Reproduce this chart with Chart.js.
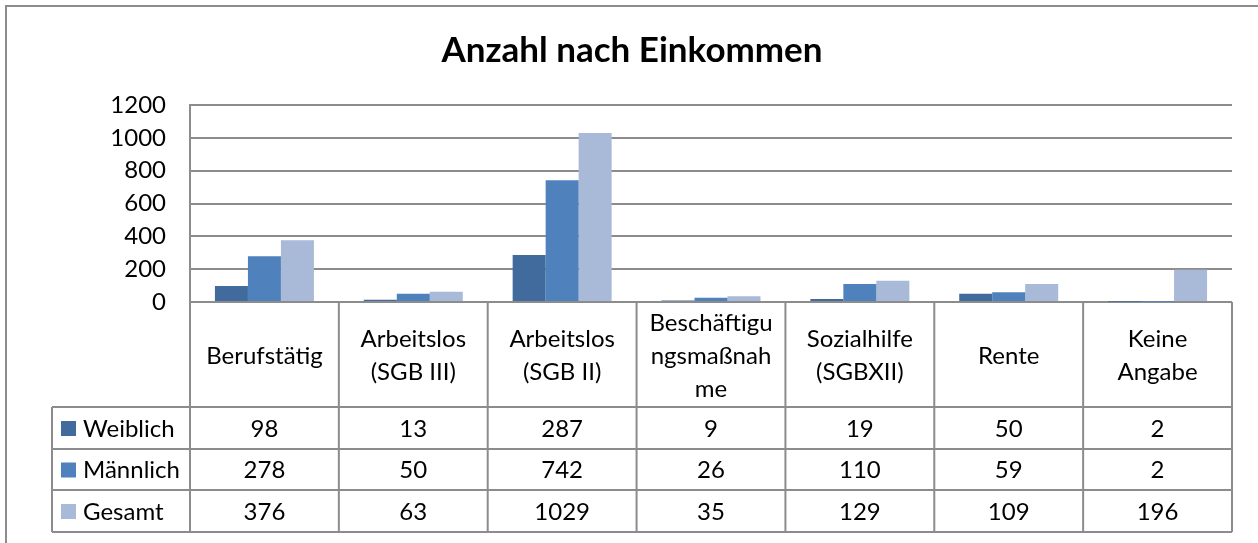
<!DOCTYPE html>
<html>
<head>
<meta charset="utf-8">
<script src="https://cdn.jsdelivr.net/npm/chart.js@4.4.0/dist/chart.umd.min.js"></script>
<style>
  html, body { margin: 0; padding: 0; background: #fff; }
  #chart { display: block; }
</style>
</head>
<body>
<canvas id="chart" width="1258" height="543"></canvas>
<script>
// data
const categories = [
    ['Berufstätig'],
    ['Arbeitslos', '(SGB III)'],
    ['Arbeitslos', '(SGB II)'],
    ['Beschäftigu', 'ngsmaßnah', 'me'],
    ['Sozialhilfe', '(SGBXII)'],
    ['Rente'],
    ['Keine', 'Angabe']
];
const weiblich = [98, 13, 287, 9, 19, 50, 2];
const maennlich = [278, 50, 742, 26, 110, 59, 2];
const gesamt = [376, 63, 1029, 35, 129, 109, 196];
const seriesNames = ['Weiblich', 'Männlich', 'Gesamt'];
const yTicks = [0, 200, 400, 600, 800, 1000, 1200];

const colors = ['#416b9d', '#4f81bd', '#a9b9d8'];
const lineColor = '#8c8c8c';
const fontFamily = 'Lato, "Open Sans", sans-serif';
const textSize = 24;
const title = 'Anzahl nach Einkommen';

// table row positions
const rowTops = [407, 449, 490, 532];
const legendLeft = 52;

const tablePlugin = {
    id: 'dataTable',
    afterDraw(chart) {
        const ctx = chart.ctx;
        const area = chart.chartArea;
        const xScale = chart.scales.x;
        const n = categories.length;

        ctx.save();

        // outer frame (top and left visible)
        ctx.strokeStyle = lineColor;
        ctx.lineWidth = 2;
        ctx.beginPath();
        ctx.moveTo(6, 543);
        ctx.lineTo(6, 6);
        ctx.lineTo(1258, 6);
        ctx.stroke();

        // title
        ctx.fillStyle = '#000';
        ctx.font = 'bold 35px ' + fontFamily;
        ctx.textAlign = 'center';
        ctx.textBaseline = 'alphabetic';
        ctx.fillText(title, 632, 62);

        // column boundaries from the category scale
        const bounds = [area.left];
        for (let i = 0; i < n - 1; i++) {
            bounds.push((xScale.getPixelForValue(i) + xScale.getPixelForValue(i + 1)) / 2);
        }
        bounds.push(area.right);

        const bottom = rowTops[rowTops.length - 1];

        ctx.strokeStyle = lineColor;
        ctx.lineWidth = 2;
        ctx.beginPath();
        bounds.forEach(x => {
            ctx.moveTo(x, area.bottom);
            ctx.lineTo(x, bottom);
        });
        ctx.moveTo(legendLeft, rowTops[0]);
        ctx.lineTo(legendLeft, bottom);
        rowTops.forEach(y => {
            ctx.moveTo(legendLeft, y);
            ctx.lineTo(area.right, y);
        });
        ctx.stroke();

        // category labels
        ctx.font = textSize + 'px ' + fontFamily;
        ctx.fillStyle = '#000';
        ctx.textAlign = 'center';
        ctx.textBaseline = 'middle';
        const labelMid = 356;
        const lineH = 33;
        categories.forEach((lines, i) => {
            const x = xScale.getPixelForValue(i);
            const y0 = labelMid - (lines.length - 1) * lineH / 2;
            lines.forEach((t, j) => ctx.fillText(t, x, y0 + j * lineH));
        });

        // value rows with legend keys
        chart.data.datasets.forEach((ds, r) => {
            const yMid = (rowTops[r] + rowTops[r + 1]) / 2 + 1;
            ctx.fillStyle = ds.backgroundColor;
            ctx.fillRect(61, yMid - 8, 15, 15);
            ctx.fillStyle = '#000';
            ctx.textAlign = 'left';
            ctx.fillText(ds.label, 83, yMid);
            ctx.textAlign = 'center';
            ds.data.forEach((v, i) => {
                ctx.fillText(String(v), xScale.getPixelForValue(i), yMid);
            });
        });

        ctx.restore();
    }
};

new Chart(document.getElementById('chart'), {
    type: 'bar',
    data: {
        labels: categories,
        datasets: [
            { label: seriesNames[0], data: weiblich, backgroundColor: colors[0] },
            { label: seriesNames[1], data: maennlich, backgroundColor: colors[1] },
            { label: seriesNames[2], data: gesamt, backgroundColor: colors[2] }
        ]
    },
    options: {
        responsive: false,
        animation: false,
        devicePixelRatio: 1,
        layout: {
            padding: { left: 0, right: 26, top: 105, bottom: 241 }
        },
        datasets: {
            bar: { categoryPercentage: 0.665, barPercentage: 1.0 }
        },
        plugins: {
            legend: { display: false },
            title: { display: false },
            tooltip: { enabled: false }
        },
        scales: {
            x: {
                display: false
            },
            y: {
                min: 0,
                max: 1200,
                afterBuildTicks(scale) {
                    scale.ticks = yTicks.map(v => ({ value: v }));
                },
                afterFit(scale) {
                    scale.width = 190;
                },
                grid: {
                    color: lineColor,
                    lineWidth: 2,
                    drawTicks: false
                },
                border: { color: lineColor, width: 2 },
                ticks: {
                    padding: 24,
                    color: '#000',
                    font: { family: fontFamily, size: textSize },
                    callback: v => String(v)
                }
            }
        }
    },
    plugins: [tablePlugin]
});
</script>
</body>
</html>
